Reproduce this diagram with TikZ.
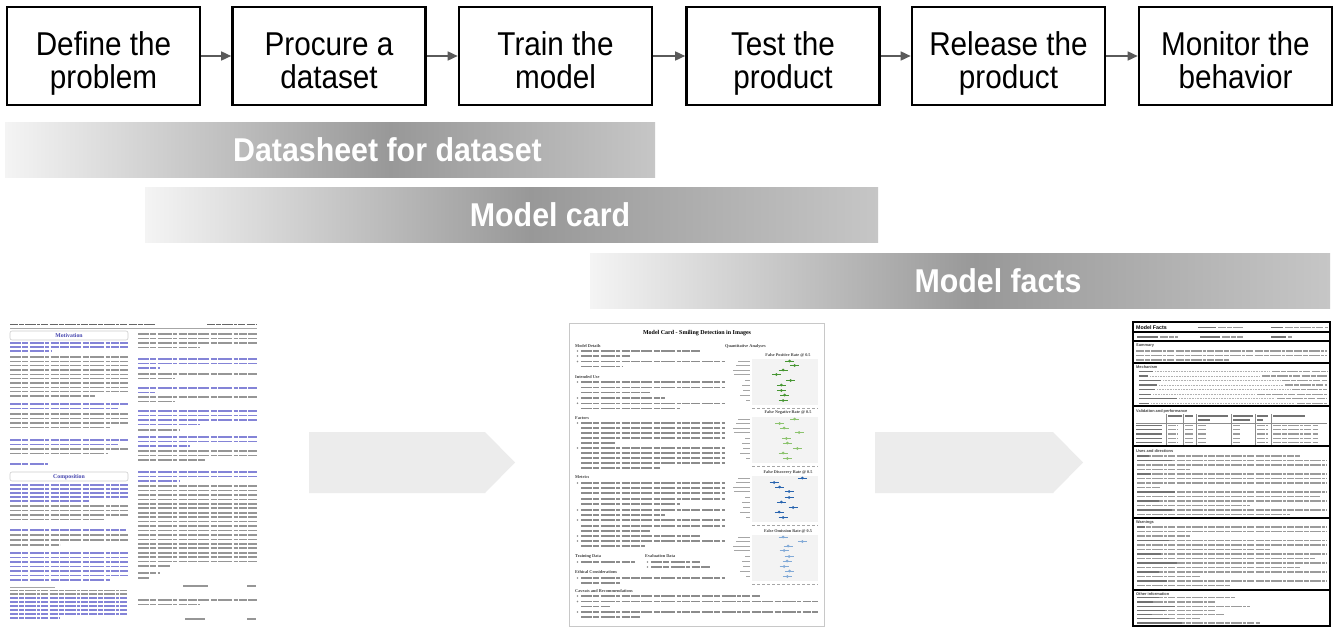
\documentclass[tikz,border=0pt]{standalone}
\usepackage{graphicx}
\usepackage{fontspec}
\setmainfont{Liberation Sans}
\newfontfamily\serifdoc{Liberation Serif}
\usetikzlibrary{arrows.meta}

\definecolor{arrowgray}{RGB}{90,90,90}
\definecolor{bnlight}{RGB}{244,244,244}
\definecolor{bndark}{RGB}{152,152,152}
\definecolor{bnend}{RGB}{198,198,198}
\definecolor{chev}{RGB}{236,236,236}
\definecolor{bodygray}{RGB}{150,150,150}
\definecolor{qblue}{RGB}{132,132,215}
\definecolor{headblue}{RGB}{70,70,175}
\definecolor{cardframe}{RGB}{200,200,200}
\definecolor{mcgray}{RGB}{140,140,140}
\definecolor{mfgray}{RGB}{155,155,155}
\definecolor{plotbg}{RGB}{243,243,243}
\definecolor{dotgreen}{RGB}{70,150,50}
\definecolor{dotlgreen}{RGB}{140,195,110}
\definecolor{dotblue}{RGB}{40,100,175}
\definecolor{dotlblue}{RGB}{130,170,215}

\tikzset{
  stepbox/.style={draw=black, line width=2.6pt, minimum width=193pt, minimum height=98pt, inner sep=0pt},
  steptext/.style={anchor=base, inner sep=0pt, font=\fontsize{33}{38}\selectfont},
  flow/.style={draw=arrowgray, line width=1.5pt, -{Triangle[length=10pt,width=9pt]}},
  bannertext/.style={text=white, inner sep=0pt, font=\bfseries\fontsize{33}{38}\selectfont},
  wordgaps/.style={dash pattern=on 11pt off 1.4pt on 6pt off 1.4pt on 14pt off 1.4pt on 4pt off 1.4pt on 8pt off 1.4pt on 9pt off 1.4pt},
  wordgapsmall/.style={dash pattern=on 8pt off 1.1pt on 5pt off 1.1pt on 11pt off 1.1pt on 3pt off 1.1pt on 7pt off 1.1pt},
  dsbody/.style={draw=bodygray, line width=1.6pt, wordgaps},
  dsq/.style={draw=qblue, line width=1.6pt, wordgaps},
  dsfoot/.style={draw=bodygray, line width=1.1pt, wordgapsmall},
  dsfootq/.style={draw=qblue, line width=1.1pt, wordgapsmall},
  dshead/.style={font=\serifdoc\bfseries\fontsize{5.8}{6}\selectfont, text=headblue, inner sep=0pt},
  mcbody/.style={draw=mcgray, line width=1.5pt, wordgaps},
  mchead/.style={font=\serifdoc\bfseries\fontsize{4.3}{5}\selectfont, text=black!75, anchor=west, inner sep=0pt},
  charttitle/.style={font=\serifdoc\bfseries\fontsize{4.2}{5}\selectfont, text=black!75, inner sep=0pt},
  mfbody/.style={draw=mfgray, line width=1.2pt, wordgapsmall},
  mfbold/.style={draw=black!55, line width=1.2pt},
  mfhead/.style={font=\bfseries\fontsize{3.9}{4.5}\selectfont, text=black!75, anchor=west, inner sep=0pt},
  mfrule/.style={draw=black, line width=1.6pt},
}

% a life-cycle step: box name, centre x, first line, second line
\newcommand\lifestep[4]{%
  \node[stepbox] (#1) at (#2,56) {};
  \node[steptext] (#1-a) at (#2,55.5) {\scalebox{0.9}[1]{#3}};
  \node[steptext] (#1-b) at (#2,88) {\scalebox{0.9}[1]{#4}};
}
% one text line per entry: end-x/y, all starting at the given x
\newcommand\doclines[3]{\foreach \xb/\yy in {#3}{\draw[#1] (#2,\yy) -- (\xb,\yy);}}
\newcommand\cardbullets[2]{\foreach \yy in {#2}{\fill[mcgray] (#1,\yy) circle (0.9);}}
% plot panel of the quantitative analyses: name, top y, title, colour, dot x list
\newcommand\qachart[5]{%
  \node[charttitle] (#1) at (788,#2-4) {#3};
  \fill[plotbg] (752,#2) rectangle (818,#2+46);
  \foreach \dx/\dy/\ll in {#5}{%
    \draw[black!35, line width=0.8pt] (750-\ll,#2+\dy) -- (750,#2+\dy);
    \draw[#4, line width=0.6pt] (\dx-4.5,#2+\dy) -- (\dx+4.5,#2+\dy);
    \fill[#4] (\dx,#2+\dy) circle (1.5);
  }
  \draw[black!35, line width=0.8pt, dash pattern=on 3pt off 2pt] (752,#2+49) -- (818,#2+49);
}

\begin{document}
\begin{tikzpicture}[x=1pt,y=-1pt]
\useasboundingbox (0,0) rectangle (1334,629);
\fill[white] (0,0) rectangle (1334,629);

% ---------------- life-cycle steps ----------------
\lifestep{s1}{103.5}{Define the}{problem}
\lifestep{s2}{329}{Procure a}{dataset}
\lifestep{s3}{555.5}{Train the}{model}
\lifestep{s4}{783}{Test the}{product}
\lifestep{s5}{1008.5}{Release the}{product}
\lifestep{s6}{1235.5}{Monitor the}{behavior}
\draw[flow] (s1) -- (s2);
\draw[flow] (s2) -- (s3);
\draw[flow] (s3) -- (s4);
\draw[flow] (s4) -- (s5);
\draw[flow] (s5) -- (s6);

% ---------------- documentation banners ----------------
\shade[left color=bnlight, right color=bndark] (5,122) rectangle (390.5,177);
\shade[left color=bndark, right color=bnend] (390,122) rectangle (655,177);
\node[bannertext] (ds) at (387.5,150) {\scalebox{0.92}[1]{Datasheet for dataset}};

\shade[left color=bnlight, right color=bndark] (145,187) rectangle (530.5,242);
\shade[left color=bndark, right color=bnend] (530,187) rectangle (878,242);
\node[bannertext] (mc) at (550,215) {\scalebox{0.92}[1]{Model card}};

\shade[left color=bnlight, right color=bndark] (590,253) rectangle (975.5,308);
\shade[left color=bndark, right color=bnend] (975,253) rectangle (1330,308);
\node[bannertext] (mf) at (998,281) {\scalebox{0.92}[1]{Model facts}};

% ---------------- chevrons between documents ----------------
\fill[chev] (309,432) -- (485,432) -- (515,462.5) -- (485,493) -- (309,493) -- cycle;
\fill[chev] (875,432) -- (1053,432) -- (1083,462.5) -- (1053,493) -- (875,493) -- cycle;

% ---------------- datasheet page ----------------
\draw[black!60, line width=1.4pt, wordgapsmall] (10,324.5) -- (155,324.5);
\draw[black!60, line width=1.4pt, wordgapsmall] (207,324.5) -- (257,324.5);
\draw[black!35, line width=0.4pt] (10,327.8) -- (257,327.8);
\draw[rounded corners=2pt, draw=black!20, line width=0.6pt] (10,331) rectangle (128,340);
\node[dshead] (motivation) at (69,335.7) {Motivation};
\draw[rounded corners=2pt, draw=black!20, line width=0.6pt] (10,472) rectangle (128,481);
\node[dshead] (composition) at (69,476.7) {Composition};
% left column
\doclines{dsq}{10}{128/343,128/347,52/351}
\doclines{dsbody}{10}{128/357,128/361.3,128/365.6,128/370,128/374.3,128/378.6,128/383,128/387.3,128/391.6,95/396}
\doclines{dsq}{10}{128/404,118/408.5}
\doclines{dsbody}{10}{128/414,128/418.5,128/423,110/427.5}
\doclines{dsq}{10}{128/440,118/444.5}
\doclines{dsbody}{10}{128/449,108/453.5}
\doclines{dsq}{10}{48/464}
\doclines{dsq}{10}{128/485,128/489,128/493,128/497,90/501}
\doclines{dsbody}{10}{128/506,128/510.5,128/515,105/519.5}
\doclines{dsq}{10}{126/530}
\doclines{dsbody}{10}{128/535,128/540,60/545}
\doclines{dsq}{10}{128/553,128/557.5,128/562,128/566.5,128/571,128/575.5,110/580}
\draw[black!35, line width=0.4pt] (10,587.5) -- (55,587.5);
\doclines{dsfoot}{10}{128/590.5,128/594}
\doclines{dsfootq}{10}{128/598,128/602,128/606,128/610,128/614}
\doclines{dsfootq}{10}{60/618}
% right column
\doclines{dsbody}{138}{257/334,257/338.5,257/343,200/347.5}
\doclines{dsq}{138}{257/359,257/363.5,160/368}
\doclines{dsbody}{138}{257/374,175/378.5}
\doclines{dsq}{138}{257/388,155/392.5}
\doclines{dsbody}{138}{257/397,175/401.5}
\doclines{dsq}{138}{257/411,257/415.5,257/420,200/424.5}
\doclines{dsbody}{138}{180/430}
\doclines{dsq}{138}{257/437,257/441.5,190/446}
\doclines{dsbody}{138}{257/451,257/455.5,205/460}
\doclines{dsq}{138}{257/472,257/476.5,180/481}
\doclines{dsbody}{138}{257/486,257/490.4,257/494.9,257/499.3,257/503.8,257/508.2,257/512.7,257/517.1,257/521.6,257/526,257/530.4,257/534.9,257/539.3,257/543.8,257/548.2,257/552.7,257/557.1,257/561.6,170/566}
\doclines{dsbody}{138}{160/573,150/578}
\draw[bodygray, line width=1.3pt] (183,586) -- (208,586);
\draw[bodygray, line width=1.3pt] (247,586) -- (256,586);
\doclines{dsbody}{138}{257/600,200/604.5}
\draw[bodygray, line width=1.3pt] (185,619) -- (205,619);
\draw[bodygray, line width=1.3pt] (247,619) -- (256,619);

% ---------------- model card page ----------------
\draw[cardframe, fill=white, line width=1pt] (569,323) rectangle (824,626);
\node[font=\serifdoc\bfseries\fontsize{6}{7}\selectfont, inner sep=0pt] (cardtitle) at (697,333) {Model Card - Smiling Detection in Images};
\node[mchead] (hdetails) at (575,346) {Model Details};
\cardbullets{577.5}{351,356,361.5}
\doclines{mcbody}{581}{700/351,630/356,725/361.5,622/366.5}
\node[mchead] (huse) at (575,377) {Intended Use};
\cardbullets{577.5}{382,398,403.3}
\doclines{mcbody}{581}{725/382,725/387.7,650/392.7,665/398,725/403.3,680/408.3}
\node[mchead] (hfactors) at (575,418) {Factors};
\cardbullets{577.5}{423,448}
\doclines{mcbody}{581}{725/423,725/428,725/433,725/438,615/443,725/448,725/453,725/458,725/463,660/468}
\node[mchead] (hmetrics) at (575,477) {Metrics};
\cardbullets{577.5}{483,510,520,536,541}
\doclines{mcbody}{581}{725/483,725/488,725/493,725/499,680/504,725/510,665/515,725/520,725/526,650/531,700/536,725/541,645/546}
\node[mchead] (htrain) at (575,556) {Training Data};
\node[mchead] (heval) at (645,556) {Evaluation Data};
\cardbullets{577.5}{562}
\cardbullets{647.5}{562,567}
\doclines{mcbody}{581}{635/562}
\doclines{mcbody}{651}{700/562,710/567}
\node[mchead] (hethics) at (575,572) {Ethical Considerations};
\cardbullets{577.5}{578}
\doclines{mcbody}{581}{725/578,620/583}
\node[mchead] (hcaveats) at (575,591) {Caveats and Recommendations};
\cardbullets{577.5}{596,601.5,612}
\doclines{mcbody}{581}{760/596,818/601.5,610/606.5,818/612,640/617}
\node[mchead] (hquant) at (725,346) {Quantitative Analyses};
\qachart{fpr}{359}{False Positive Rate @ 0.5}{dotgreen}{789.7/2/12,794.7/6.5/14,783/11/17,776.3/15.5/16,790.7/21.5/5,781.3/26/8,781.3/31.5/7,784.7/36/10,783/41.5/4}
\qachart{fnr}{417}{False Negative Rate @ 0.5}{dotlgreen}{794.7/2/12,779.7/6.5/14,784/11/17,799/15.5/16,786.3/21.5/5,787.3/26/8,797.3/31.5/7,783/36/10,787.3/41.5/4}
\qachart{fdr}{476}{False Discovery Rate @ 0.5}{dotblue}{802.3/2/12,774/6.5/14,779.7/11/17,789/15.5/16,789/21.5/5,781.3/26/8,793/31.5/7,779/36/10,783/41.5/4}
\qachart{for}{535}{False Omission Rate @ 0.5}{dotlblue}{783/2/12,802.3/6.5/14,788/11/17,784/15.5/16,789/21.5/5,787/26/8,784/31.5/7,789.7/36/10,787.3/41.5/4}

% ---------------- model facts page ----------------
\draw[black, fill=white, line width=1.2pt] (1133,322) rectangle (1330,626);
\foreach \yy in {332,341,363,406,446,518,590}{\draw[mfrule] (1133,\yy) -- (1330,\yy);}
\node[font=\bfseries\fontsize{5.3}{6}\selectfont, inner sep=0pt, anchor=west] (facttitle) at (1136,327.3) {Model Facts};
\draw[mfbold] (1198,327.3) -- (1216,327.3); \draw[mfbody] (1218,327.3) -- (1243,327.3);
\draw[mfbold] (1271,327.3) -- (1283,327.3); \draw[mfbody] (1285,327.3) -- (1328,327.3);
\draw[mfbold] (1137,337) -- (1158,337); \draw[mfbody] (1160,337) -- (1178,337);
\draw[mfbold] (1200,337) -- (1220,337); \draw[mfbody] (1222,337) -- (1243,337);
\draw[mfbold] (1271,337) -- (1286,337); \draw[mfbody] (1288,337) -- (1292,337);
\node[mfhead] (hsummary) at (1136,346) {Summary};
\doclines{mfbody}{1136}{1327/351,1327/355.5,1230/360}
\node[mfhead] (hmech) at (1136,367) {Mechanism};
\foreach \yy/\la/\va in {371.3/14/55,375.9/9/65,380.4/22/45,385/18/42,389.6/16/35,394.1/12/70,398.6/38/50,403.1/10/30}{
  \draw[mfbold] (1139,\yy) -- (1139+\la,\yy);
  \draw[black!30, line width=0.5pt, dash pattern=on 0.6pt off 1pt] (1141+\la,\yy) -- (1325-\va,\yy);
  \draw[mfbody] (1327-\va,\yy) -- (1327,\yy);
}
\node[mfhead] (hvalid) at (1136,411) {Validation and performance};
\foreach \xx in {1166,1183,1196,1231,1255,1271}{\draw[black!45, line width=0.4pt] (\xx,414) -- (\xx,444.5);}
\draw[black!45, line width=0.4pt] (1136,422.8) -- (1327,422.8);
\foreach \xa/\xb in {1168/1182,1185/1193,1198/1228,1233/1253,1257/1268,1273/1305}{\draw[mfbold] (\xa,416) -- (\xb,416);}
\foreach \xa/\xb in {1198/1210,1233/1250,1257/1263}{\draw[mfbold] (\xa,420) -- (\xb,420);}
\foreach \yy in {425.5,429.8,434,438.3,442.5}{
  \draw[mfbold] (1136,\yy) -- (1162,\yy);
  \foreach \xa/\xb in {1168/1178,1185/1193,1198/1207,1233/1240,1257/1268,1273/1318}{\draw[mfbody] (\xa,\yy) -- (\xb,\yy);}
}
\node[mfhead] (huses) at (1136,451) {Uses and directions};
\doclines{mfbody}{1137}{1300/456,1327/460.5,1327/465,1190/469.5,1327/474,1327/478.5,1327/483,1160/487.5,1327/492,1320/496.5,1327/501,1250/505.5,1327/510,1290/514.5}
\foreach \yy/\la in {456/12,460.5/35,474/14,492/38,501/22,510/35}{\draw[mfbold] (1137,\yy) -- (1137+\la,\yy);}
\node[mfhead] (hwarn) at (1136,522) {Warnings};
\doclines{mfbody}{1137}{1327/527,1327/531.5,1190/536,1327/540.5,1327/545,1270/549.5,1327/554,1315/558.5,1327/563,1300/567.5,1327/572,1200/576.5,1327/581,1230/585.5}
\foreach \yy/\la in {527/8,540.5/32,554/24,563/40,572/22,581/30}{\draw[mfbold] (1137,\yy) -- (1137+\la,\yy);}
\node[mfhead] (hother) at (1136,594) {Other information};
\doclines{mfbody}{1137}{1235/597.8,1215/602,1250/606.2,1215/610.4,1225/614.6,1200/618.8,1260/623}
\foreach \yy/\la in {597.8/22,602/16,606.2/38,610.4/28,614.6/15,618.8/32,623/45}{\draw[mfbold] (1137,\yy) -- (1137+\la,\yy);}

\end{tikzpicture}
\end{document}
